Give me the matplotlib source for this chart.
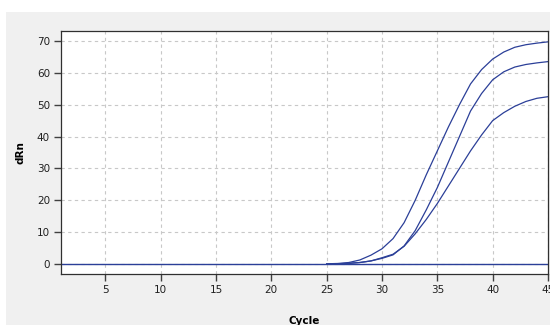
import matplotlib
matplotlib.use("Agg")
import matplotlib.pyplot as plt
from matplotlib.patches import Rectangle

# amplification data
cycles = list(range(25, 46))
well_a = [0.1, 0.2, 0.5, 1.3, 2.8, 4.8, 8.0, 13.0, 20.0, 28.0, 35.5, 43.0, 50.0,
          56.5, 61.0, 64.3, 66.5, 68.0, 68.8, 69.3, 69.7]
well_b = [0.0, 0.1, 0.2, 0.5, 1.0, 1.8, 2.9, 5.7, 10.5, 17.0, 24.0, 32.0, 40.0,
          48.0, 53.5, 57.8, 60.3, 61.8, 62.6, 63.1, 63.5]
well_c = [0.0, 0.1, 0.3, 0.5, 1.0, 2.0, 3.1, 5.6, 9.5, 14.0, 19.0, 24.5, 30.0,
          35.5, 40.5, 45.0, 47.5, 49.5, 51.0, 52.0, 52.5]
threshold = 0.0

xticks = [5, 10, 15, 20, 25, 30, 35, 40, 45]
yticks = [0, 10, 20, 30, 40, 50, 60, 70]

line_col = "#2b3f98"

fig = plt.figure(figsize=(5.5, 3.25), dpi=100, facecolor="white")
fig.patches.append(Rectangle((6 / 550, 0), 1, 1 - 12 / 325, transform=fig.transFigure,
                             facecolor="#f0f0f0", edgecolor="none", zorder=-1))

ax = fig.add_axes([61 / 550, 1 - 274 / 325, 487 / 550, 243 / 325])
ax.set_facecolor("white")

ax.axhline(threshold, color=line_col, lw=1.0)
for vals in (well_a, well_b, well_c):
    ax.plot(cycles, vals, color=line_col, lw=0.9)

ax.set_xlim(1, 45)
ax.set_ylim(-3.1, 73.1)
ax.set_xticks(xticks)
ax.set_yticks(yticks)
ax.grid(True, color="#c8c8c8", linestyle=(0, (3, 3)), lw=0.8)
ax.set_axisbelow(True)

for s in ax.spines.values():
    s.set_color("#303030")
    s.set_linewidth(0.9)
ax.tick_params(direction="out", length=5, width=1, color="#404040",
               labelsize=7.5, labelcolor="#202020", pad=3)

ax.set_xlabel("Cycle", fontsize=7.5, fontweight="bold", labelpad=15)
ax.set_ylabel("dRn", fontsize=7.5, fontweight="bold", labelpad=8)

fig.savefig("out.png", dpi=100)
